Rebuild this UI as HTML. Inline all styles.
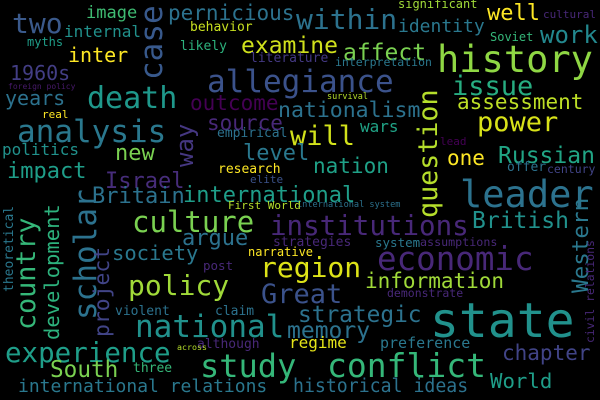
<!DOCTYPE html>
<html><head><meta charset="utf-8"><style>
html,body{margin:0;padding:0;background:#000;}
svg{display:block;}
text{font-family:"DejaVu Sans Mono","Liberation Mono",monospace;}
</style></head><body>
<svg width="600" height="400" viewBox="0 0 600 400">
<rect width="600" height="400" fill="#000"/>
<g id="words"></g>
</svg>
<script>
// word, x, baseline y, font size, color, vertical flag
const words = ["two","pernicious","image","internal","behavior","myths","likely","inter","examine","literature","1960s","foreign policy","allegiance","death","years","outcome","nationalism","issue","history","within","significant","well","cultural","identity","work","Soviet","affect","interpretation","survival","assessment","will","power","wars","lead","one","Russian","offer","century","nation","leader","international","international system","level","source","empirical","analysis","real","politics","new","impact","Israel","research","elite","Britain","First World","culture","institutions","argue","strategies","society","narrative","post","region","Great","policy","economic","British","system","assumptions","information","demonstrate","violent","claim","strategic","national","memory","state","although","regime","preference","across","experience","study","conflict","chapter","South","three","international relations","historical ideas","World","case","way","question","theoretical","country","development","scholar","project","Western","civil relations"];
const xs = [12,168,86,64,190,27,180,68,241,250,10,8,207,87,5,190,278,452,437,296,398,487,543,398,540,490,343,335,327,457,290,477,360,440,447,498,507,547,313,460,183,297,243,207,217,17,42,2,115,7,105,218,250,92,228,132,270,182,273,112,248,203,260,261,128,377,472,375,420,365,387,115,215,298,135,287,430,197,289,380,177,5,200,327,502,50,133,18,293,490,162,193,437,13,35,59,96,109,588,594];
const ys = [33,20,18,37,31,46,50,62,53,62,80,89,92,108,105,110,117,95,72,29,8,20,18,32,43,41,60,66,99,109,145,131,132,145,165,163,171,173,173,207,202,207,160,130,137,142,118,155,160,178,188,173,183,203,209,232,235,245,246,260,256,270,277,303,295,270,228,247,246,288,297,315,315,322,337,338,337,348,348,348,350,362,377,377,360,377,372,392,392,388,80,167,218,292,330,340,320,337,293,343];
const sizes = [28,21,17,16,13,12,13,20,23,13,20,8,31,30,20,21,21.5,27,37,28,12,22,11,18,24,12,23,11.5,8.5,21,27,27,16,11,21,23,13,11.5,21,37,22,8.6,22,21,13,31,11,16,22,22,22,13,11,22,11,29,27.5,22,13,20.5,12,12.5,28,27,28,32.5,23,12.5,11.7,21,11.5,13,13,22.8,31,23,48,13,16,15,8.3,27.5,32,33,21,22.7,13,18,18.2,20.7,31,24,26.7,13,26.7,20.5,31,21.4,22.6,11.4];
const colors = ["#3b5a8c","#2c728e","#3fbc73","#21918c","#c8e020","#1f9e89","#2db27d","#fde725","#d0e11c","#443983","#433e85","#481a6c","#3b528b","#1f988b","#2c728e","#440154","#2c728e","#27ad81","#8fd744","#2c728e","#a0da39","#fde725","#482878","#2a788e","#23888e","#35b779","#7ad151","#2a788e","#b5de2b","#bddf26","#d2e21b","#d8e219","#20a386","#440154","#fde725","#21a585","#2c728e","#414487","#1fa187","#2c728e","#1f9e89","#2c728e","#2a788e","#482878","#2c728e","#2a788e","#fde725","#21918c","#7ad151","#1f9e89","#472d7b","#fde725","#3b528b","#2c728e","#b5de2b","#7ad151","#482878","#2c728e","#482878","#2a788e","#fde725","#482878","#dde318","#3b528b","#a0da39","#482878","#21918c","#2a788e","#482878","#a0da39","#482878","#2c728e","#2c728e","#2c728e","#21918c","#2c728e","#21918c","#482878","#e5e419","#2a788e","#b5de2b","#1f9e89","#35b779","#35b779","#414487","#7ad151","#35b779","#2a788e","#2c728e","#1f9e89","#38598c","#453781","#b5de2b","#2a788e","#35b779","#2db27d","#2c728e","#414487","#2a788e","#482878"];
const vertical = [0,0,0,0,0,0,0,0,0,0,0,0,0,0,0,0,0,0,0,0,0,0,0,0,0,0,0,0,0,0,0,0,0,0,0,0,0,0,0,0,0,0,0,0,0,0,0,0,0,0,0,0,0,0,0,0,0,0,0,0,0,0,0,0,0,0,0,0,0,0,0,0,0,0,0,0,0,0,0,0,0,0,0,0,0,0,0,0,0,0,1,1,1,1,1,1,1,1,1,1];
const g = document.getElementById('words');
const NS = 'http://www.w3.org/2000/svg';
for (let i = 0; i < words.length; i++) {
  const t = document.createElementNS(NS, 'text');
  t.textContent = words[i];
  t.setAttribute('font-size', sizes[i]);
  t.setAttribute('fill', colors[i]);
  if (vertical[i]) {
    t.setAttribute('transform', 'translate(' + xs[i] + ',' + ys[i] + ') rotate(-90)');
    t.setAttribute('x', 0);
    t.setAttribute('y', 0);
  } else {
    t.setAttribute('x', xs[i]);
    t.setAttribute('y', ys[i]);
  }
  
  
  g.appendChild(t);
}
</script>
</body></html>
